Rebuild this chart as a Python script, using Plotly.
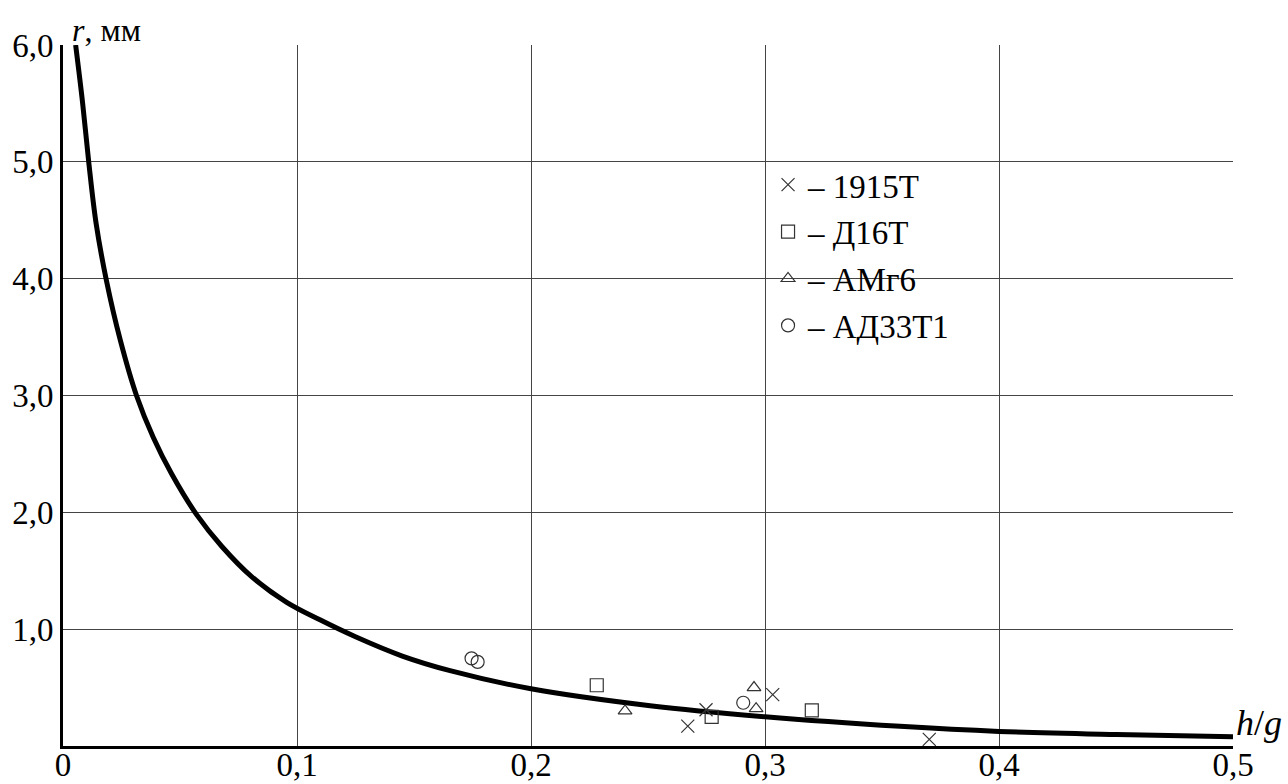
import plotly.graph_objects as go

# Fitted curve r(h/g), mm
curve_x = [0.0054, 0.0084, 0.0111, 0.0141, 0.0186, 0.0244, 0.0314, 0.0386, 0.0464,
           0.0571, 0.0678, 0.0806, 0.0956, 0.1098, 0.1250, 0.1450, 0.1654, 0.2,
           0.2509, 0.3, 0.3577, 0.4, 0.4503, 0.5]
curve_r = [6.0, 5.5, 4.98, 4.48, 3.98, 3.48, 3.0, 2.64, 2.33,
           1.98, 1.71, 1.45, 1.23, 1.08, 0.935, 0.77, 0.645, 0.49,
           0.345, 0.25, 0.168, 0.125, 0.098, 0.08]

# Experimental points per alloy
alloy_names = ["1915Т", "Д16Т", "АМг6", "АД33Т1"]
x_1915 = [0.267, 0.2748, 0.3033, 0.3702]
r_1915 = [0.17, 0.31, 0.44, 0.057]
x_d16 = [0.2281, 0.2772, 0.320]
r_d16 = [0.52, 0.25, 0.305]
x_amg6 = [0.2402, 0.2953, 0.2962]
r_amg6 = [0.30, 0.50, 0.32]
x_ad33 = [0.1746, 0.1772, 0.2907]
r_ad33 = [0.75, 0.72, 0.37]

x_ticks = [0, 0.1, 0.2, 0.3, 0.4, 0.5]
x_tick_text = ["0", "0,1", "0,2", "0,3", "0,4", "0,5"]
y_ticks = [1, 2, 3, 4, 5, 6]
y_tick_text = ["1,0", "2,0", "3,0", "4,0", "5,0", "6,0"]

FONT = "Liberation Serif, Times New Roman, serif"
MARK = "#333333"
FS = 33

fig = go.Figure()

fig.add_trace(go.Scatter(
    x=curve_x, y=curve_r, mode="lines",
    line=dict(color="black", width=5, shape="spline", smoothing=1.0),
    showlegend=False, hoverinfo="skip"))

series = [
    (x_1915, r_1915, "x-thin-open", 13),
    (x_d16, r_d16, "square-open", 13),
    (x_amg6, r_amg6, "triangle-up-open", 12),
    (x_ad33, r_ad33, "circle-open", 13),
]
for i, ((xs, rs, sym, sz), name) in enumerate(zip(series, alloy_names)):
    fig.add_trace(go.Scatter(
        x=xs, y=rs, mode="markers", name="– " + name, legendgroup=f"g{i}",
        marker=dict(symbol=sym, size=sz, color=MARK, line=dict(color=MARK, width=1.2))))

fig.update_layout(
    width=1288, height=784,
    margin=dict(l=63, r=55, t=45, b=38, autoexpand=False),
    paper_bgcolor="white", plot_bgcolor="white",
    font=dict(family=FONT, size=FS, color="black"),
    showlegend=True,
    legend=dict(x=0.6026, y=0.8406, xanchor="left", yanchor="top",
                bgcolor="rgba(0,0,0,0)", borderwidth=0, tracegroupgap=1,
                font=dict(family=FONT, size=FS, color="black")),
    xaxis=dict(range=[0, 0.5], tickvals=x_ticks, ticktext=x_tick_text,
               showgrid=True, gridcolor="#444444", gridwidth=1,
               showline=True, linecolor="black", linewidth=3,
               zeroline=False, ticks="", ticklabelstandoff=-13, automargin=False),
    yaxis=dict(range=[0, 6], tickvals=y_ticks, ticktext=y_tick_text,
               showgrid=True, gridcolor="#444444", gridwidth=1,
               showline=True, linecolor="black", linewidth=3,
               zeroline=False, ticks="", automargin=False),
    annotations=[
        dict(text="<i>r</i>, мм", xref="paper", yref="paper", x=0.006, y=1,
             xanchor="left", yanchor="bottom", yshift=-5, showarrow=False,
             font=dict(family=FONT, size=32, color="black")),
        dict(text="<i>h</i>/<i>g</i>", xref="paper", yref="paper", x=1, y=0,
             xanchor="left", yanchor="bottom", xshift=1, yshift=1, showarrow=False,
             font=dict(family=FONT, size=36, color="black")),
    ],
)

fig.write_html("out.html")
